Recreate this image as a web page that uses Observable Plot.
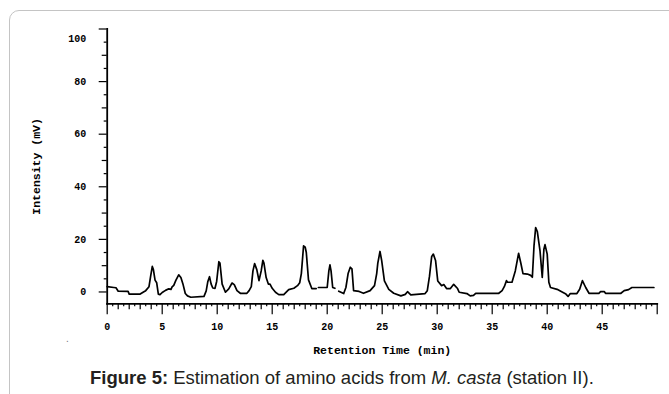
<!DOCTYPE html>
<html>
<head>
<meta charset="utf-8">
<script src="https://cdn.jsdelivr.net/npm/d3@7"></script>
<script src="https://cdn.jsdelivr.net/npm/@observablehq/plot@0.6"></script>
<style>
  html, body { margin: 0; padding: 0; background: #fff; width: 669px; height: 394px; overflow: hidden; }
  #frame { position: absolute; left: 9px; top: 10px; width: 720px; height: 440px; border: 1px solid #c4c4c4; border-radius: 10px; }
  #chart { position: absolute; left: 0; top: 0; }
  #cap { position: absolute; left: 90px; top: 367px; font-family: "Liberation Sans Narrow", "Liberation Sans", Arial, sans-serif; font-size: 18.5px; color: #231f20; white-space: nowrap; }
  #dot { position: absolute; left: 66px; top: 333px; font-family: "Liberation Sans", sans-serif; font-size: 10px; color: #777; }
  g[aria-label="x-axis label"], g[aria-label="y-axis label"] { font-size: 11.5px; }
  g[aria-label="x-axis label"] text, g[aria-label="y-axis label"] text { font-size: 11.5px; }
</style>
</head>
<body>
<div id="frame"></div>
<div id="chart"></div>
<div id="dot">.</div>
<div id="cap"><b>Figure 5:</b> Estimation of amino acids from <i>M. casta</i> (station II).</div>
<script>
// Retention time (min) and intensity (mV)
const time = [
  0, 0.6, 0.8, 1.0, 1.9, 2.0, 3.0, 3.3, 3.5, 3.8, 3.95, 4.1, 4.2, 4.35, 4.5, 4.65, 4.8, 5.0, 5.3, 5.6,
  5.8, 5.9, 6.05, 6.25, 6.5, 6.7, 6.9, 7.1, 7.3, 7.6, 8.8, 9.0, 9.15, 9.3, 9.45, 9.6, 9.8, 9.95, 10.15, 10.25,
  10.45, 10.75, 11.05, 11.35, 11.55, 11.8, 12.1, 12.7, 12.9, 13.1, 13.25, 13.4, 13.6, 13.8, 14.0, 14.15, 14.25, 14.45, 14.65, 14.8,
  15.0, 15.3, 15.6, 16.05, 16.5, 16.97, 17.3, 17.5, 17.65, 17.85, 18.0, 18.1, 18.3, 18.6, 19.0, 19.1, 19.2, 20.0, 20.15, 20.25,
  20.35, 20.5, 20.7, 20.85, 21.05, 21.5, 21.7, 21.9, 22.1, 22.25, 22.4, 22.9, 23.3, 23.9, 24.3, 24.5, 24.6, 24.8, 24.95, 25.2,
  25.6, 26.05, 26.7, 27.1, 27.3, 27.6, 28.9, 29.1, 29.3, 29.5, 29.65, 29.85, 30.05, 30.4, 30.6, 30.85, 31.2, 31.5, 31.85, 32.0,
  32.7, 33.0, 33.3, 33.5, 35.6, 35.9, 36.1, 36.3, 36.4, 36.8, 37.1, 37.4, 37.6, 37.8, 38.2, 38.5, 38.65, 38.8, 38.95, 39.1,
  39.35, 39.55, 39.7, 39.8, 40.0, 40.15, 40.3, 40.9, 41.4, 41.7, 41.9, 42.1, 42.7, 42.95, 43.2, 43.5, 43.8, 44.7, 44.85, 45.2,
  45.3, 46.7, 47.0, 47.4, 47.7, 49.7
];
const intensity = [
  2.0, 1.7, 1.6, 0.3, 0.2, -0.8, -0.8, 0.0, 0.5, 2.0, 6.0, 9.7, 8.5, 4.5, 3.5, -0.8, -1.0, -0.2, 0.6, 1.2,
  1.0, 1.9, 2.5, 4.5, 6.5, 5.5, 2.8, -0.6, -1.5, -2.0, -1.7, 0.4, 4.0, 5.8, 3.0, 1.5, 1.4, 4.0, 11.5, 11.0,
  3.0, -0.1, 1.2, 3.4, 2.8, 0.5, -0.5, -0.5, 0.5, 2.0, 8.0, 10.8, 8.5, 4.3, 8.0, 12.0, 11.0, 5.5, 3.0, 3.0,
  1.4, -0.1, -1.0, -1.0, 0.9, 1.4, 2.4, 3.5, 7.0, 17.5, 17.0, 15.0, 4.6, 1.3, 1.3, null, 1.7, 1.7, 8.0, 10.3,
  8.0, 1.7, 1.4, null, 0.3, -0.6, 1.7, 7.0, 9.4, 8.8, 0.5, 0.2, -0.5, 0.5, 2.4, 7.0, 11.0, 15.4, 12.0, 4.2,
  1.0, -0.5, -1.5, -0.9, 0.1, -1.1, -0.6, 0.5, 6.0, 13.5, 14.4, 12.0, 4.2, 2.4, 2.8, 1.3, 1.3, 2.9, 1.3, -0.1,
  -0.6, -1.5, -1.3, -0.5, -0.5, 0.5, 2.0, 4.3, 3.7, 3.7, 8.0, 14.7, 11.0, 7.0, 6.8, 6.3, 5.6, 17.5, 24.5, 23.0,
  15.5, 5.5, 16.3, 18.0, 14.4, 3.7, 1.7, 1.0, -0.1, -0.8, -1.7, -0.6, -0.6, 1.0, 4.3, 1.7, -0.5, -0.5, 0.1, 0.1,
  -0.5, -0.5, 0.5, 0.9, 1.7, 1.7
];
const xTickLabels = [0, 5, 10, 15, 20, 25, 30, 35, 40, 45];
const yTickLabels = [0, 20, 40, 60, 80];
const yTopLabel = [100];

const data = time.map((t, i) => ({t, v: intensity[i]}));
const mono = "'Liberation Mono', 'DejaVu Sans Mono', monospace";

const xHalf = d3.range(0.5, 50, 1);
const xInt = d3.range(1, 51, 1).filter(d => d % 5 !== 0);
const yFive = d3.range(5, 100, 10);
const yTen = [10, 30, 50, 70, 90];

const chart = Plot.plot({
  width: 669,
  height: 362,
  marginLeft: 106.7,
  marginRight: 12.3,
  marginTop: 28.5,
  marginBottom: 58.7,
  style: {fontFamily: mono, fontSize: "10px", fontWeight: "bold", color: "#000", background: "transparent"},
  x: {domain: [0, 50]},
  y: {domain: [-4.5, 100]},
  marks: [
    Plot.axisX({ticks: xHalf, tickSize: 3, tickFormat: () => "", label: null, strokeWidth: 1.2}),
    Plot.axisX({ticks: xInt, tickSize: 6, tickFormat: () => "", label: null, strokeWidth: 1.2}),
    Plot.axisX({ticks: [...xTickLabels, 50], tickSize: 11, tickPadding: 8, tickFormat: d => d === 50 ? "" : d, strokeWidth: 1.2,
      label: "Retention Time (min)", labelAnchor: "center", labelOffset: 50, labelArrow: "none"}),
    Plot.axisY({ticks: yFive, tickSize: 3, tickFormat: () => "", label: null, strokeWidth: 1.2}),
    Plot.axisY({ticks: yTen, tickSize: 5, tickFormat: () => "", label: null, strokeWidth: 1.2}),
    Plot.axisY({ticks: yTickLabels, tickSize: 8, tickPadding: 13, strokeWidth: 1.2,
      label: "Intensity (mV)", labelAnchor: "center", labelOffset: 75, labelArrow: "none"}),
    Plot.axisY({ticks: yTopLabel, tickSize: 8, tickPadding: 13, dy: 10, label: null, strokeOpacity: 0}),
    Plot.axisY({ticks: yTopLabel, tickSize: 8, tickFormat: () => "", label: null, strokeWidth: 1.2}),
    Plot.frame({anchor: "left", strokeWidth: 1.8}),
    Plot.frame({anchor: "bottom", strokeWidth: 1.8}),
    Plot.line(data, {x: "t", y: "v", stroke: "#000", strokeWidth: 1.7})
  ]
});
document.getElementById("chart").appendChild(chart);
</script>
</body>
</html>
